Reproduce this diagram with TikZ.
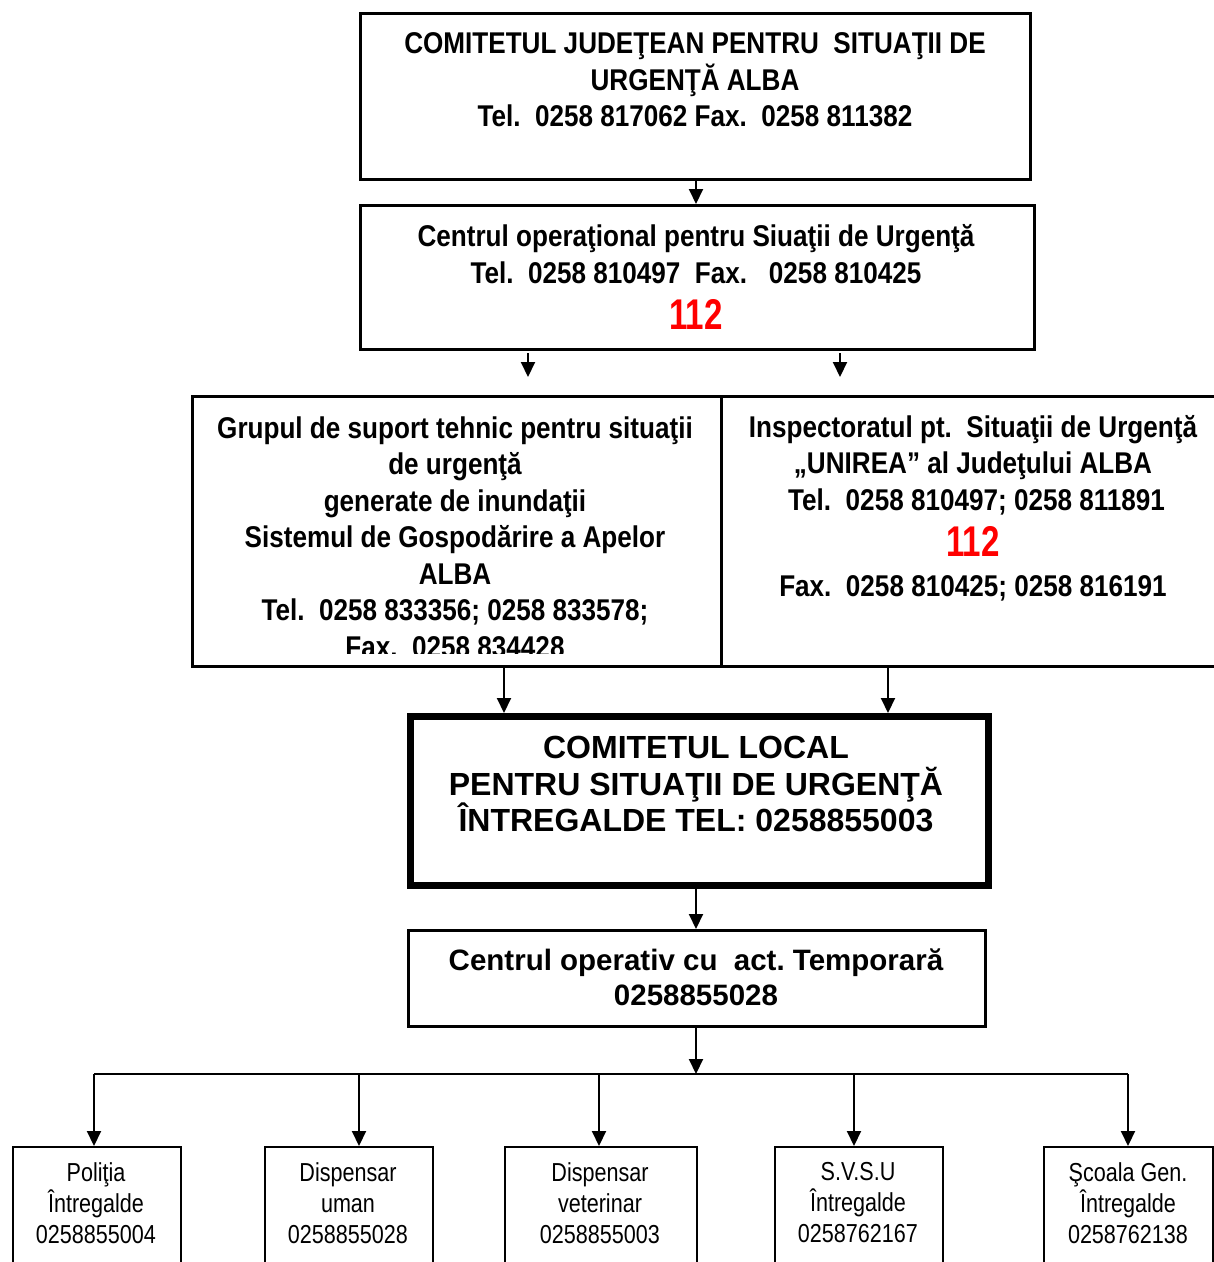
\documentclass[tikz,border=0pt]{standalone}
\usepackage{fontspec}
\setmainfont{Liberation Sans}
\newfontfamily\narrowfont{Liberation Sans}[FakeStretch=0.87]
\newfontfamily\redfont{Liberation Sans}[FakeStretch=0.77]
\newfontfamily\smallnarrow{Liberation Sans}[FakeStretch=0.83]
\usetikzlibrary{arrows.meta,calc}
\frenchspacing
\begin{document}
\begin{tikzpicture}[x=1pt,y=-1pt,
  box/.style={draw, line width=3pt, inner sep=0pt, anchor=north west},
  thickbox/.style={draw, line width=7pt, inner sep=0pt, anchor=north west},
  leaf/.style={draw, line width=2pt, inner sep=0pt, anchor=north west, minimum width=168pt, minimum height=140pt},
  txt/.style={align=center, inner sep=0pt, font={\narrowfont\bfseries\fontsize{30}{36.5}\selectfont}},
  txtbig/.style={align=center, inner sep=0pt, font={\bfseries\fontsize{32}{36.5}\selectfont}},
  txtmid/.style={align=center, inner sep=0pt, font={\bfseries\fontsize{29.5}{35}\selectfont}},
  leaftxt/.style={align=center, inner sep=0pt, font={\smallnarrow\fontsize{26}{31}\selectfont}},
  arr/.style={-{Triangle[length=15pt,width=14pt]}, line width=2pt},
  line/.style={line width=2pt}
]
\newcommand{\redno}{{\color{red}\redfont\bfseries\fontsize{43}{43}\selectfont 112}}
\clip (0,0) rectangle (1214,1262);
\fill[white] (0,0) rectangle (1214,1262);

% boxes
\node[box, minimum width=670pt, minimum height=166pt] (b1) at (359,12) {};
\node[box, minimum width=674pt, minimum height=144pt] (b2) at (359,204) {};
\node[box, minimum width=529pt, minimum height=270pt] (b3) at (191,395) {};
\node[box, minimum width=540pt, minimum height=270pt] (b4) at (720,395) {};
\node[thickbox, minimum width=578pt, minimum height=169pt] (b5) at (407,713) {};
\node[box, minimum width=577pt, minimum height=96pt] (b6) at (407,929) {};

\node[leaf] (p1) at (12,1146) {};
\node[leaf] (p2) at (264,1146) {};
\node[leaf, minimum width=192pt] (p3) at (504,1146) {};
\node[leaf] (p4) at (774,1146) {};
\node[leaf, minimum width=169pt] (p5) at (1043,1146) {};

% texts
\node[txt] (t1) at (695,80) {COMITETUL JUDEŢEAN PENTRU\ \ SITUAŢII DE\\URGENŢĂ ALBA\\Tel.\ \ 0258 817062 Fax.\ \ 0258 811382};
\node[txt] (t2) at (696,277) {Centrul operaţional pentru Siuaţii de Urgenţă\\Tel.\ \ 0258 810497\ \ Fax.\ \ \ 0258 810425\\[10pt]\redno};
\begin{scope}
  \clip (191,395) rectangle (720,653);
  \node[txt] (t3) at (455,537) {Grupul de suport tehnic pentru situaţii\\de urgenţă\\generate de inundaţii\\Sistemul de Gospodărire a Apelor\\ALBA\\Tel.\ \ 0258 833356; 0258 833578;\\Fax.\ \ 0258 834428};
\end{scope}
\node[txt] (t4) at (973,508) {Inspectoratul pt.\ \ Situaţii de Urgenţă\\„UNIREA” al Judeţului ALBA\\\ Tel.\ \ 0258 810497; 0258 811891\\[10pt]\redno\\[3pt]Fax.\ \ 0258 810425; 0258 816191};
\node[txtbig] (t5) at (696,784) {COMITETUL LOCAL\\PENTRU SITUAŢII DE URGENŢĂ\\ÎNTREGALDE TEL: 0258855003};
\node[txtmid] (t6) at (696,977) {Centrul operativ cu\ \ act. Temporară\\0258855028};

\node[leaftxt] (q1) at (96,1203) {Poliţia\\Întregalde\\0258855004};
\node[leaftxt] (q2) at (348,1203) {Dispensar\\uman\\0258855028};
\node[leaftxt] (q3) at (600,1203) {Dispensar\\veterinar\\0258855003};
\node[leaftxt] (q4) at (858,1203) {S.V.S.U\\Întregalde\\0258762167};
\node[leaftxt] (q5) at (1128,1203) {Şcoala Gen.\\Întregalde\\0258762138};

% connector positions
\coordinate (cx) at (696,0);
\coordinate (la) at (528,353);
\coordinate (ra) at (840,353);
\coordinate (a3) at (504,0);
\coordinate (a4) at (888,0);
\coordinate (d1) at (94,1074);
\coordinate (d2) at (359,1074);
\coordinate (d3) at (599,1074);
\coordinate (d4) at (854,1074);
\coordinate (d5) at (1128,1074);

\draw[arr] (b1.south -| cx) -- (b2.north -| cx);
\draw[arr] (la) -- ++(0,24);
\draw[arr] (ra) -- ++(0,24);
\draw[arr] (b3.south -| a3) -- (b5.north -| a3);
\draw[arr] (b4.south -| a4) -- (b5.north -| a4);
\draw[arr] (b5.south -| cx) -- (b6.north -| cx);
\draw[arr] (b6.south -| cx) -- (d3 -| cx);
\draw[line] (d1) -- (d5);
\draw[arr] (d1) -- (d1 |- p1.north);
\draw[arr] (d2) -- (d2 |- p2.north);
\draw[arr] (d3) -- (d3 |- p3.north);
\draw[arr] (d4) -- (d4 |- p4.north);
\draw[arr] (d5) -- (d5 |- p5.north);
\end{tikzpicture}
\end{document}
